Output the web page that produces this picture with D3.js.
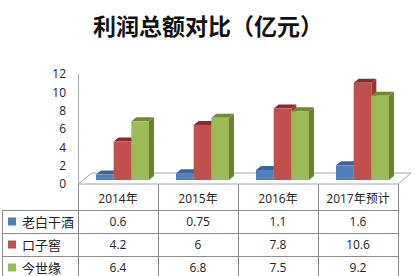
<!DOCTYPE html>
<html><head><meta charset="utf-8">
<script src="https://cdn.jsdelivr.net/npm/d3@7/dist/d3.min.js"></script>
<style>html,body{margin:0;padding:0;background:#fff;}svg{display:block;}</style>
</head><body><svg id="c" width="418" height="276"></svg>
<script>
const title = "利润总额对比（亿元）";
const categories = ["2014年", "2015年", "2016年", "2017年预计"];
const seriesNames = ["老白干酒", "口子窖", "今世缘"];
const laobaigan = [0.6, 0.75, 1.1, 1.6];
const kouzijiao = [4.2, 6, 7.8, 10.6];
const jinshiyuan = [6.4, 6.8, 7.5, 9.2];
const yTicks = [0, 2, 4, 6, 8, 10, 12];

const seriesValues = [laobaigan, kouzijiao, jinshiyuan];
const colors = [
  {front:"#4F81BD", top:"#3A64A0", side:"#2E5287"},
  {front:"#C0504D", top:"#8E2B29", side:"#9A3532"},
  {front:"#9BBB59", top:"#6E8B33", side:"#6A842F"}
];

const svg = d3.select("#c");
const plotL = 78, plotR = 398, axisBottom = 184, axisTop = 74;
const floorDx = 14, floorDy = -11;
const frontDx = 4.5, frontDy = -4;
const depthDx = 5, depthDy = -4;

const x = d3.scaleBand().domain(categories).range([plotL, plotR]);
const xs = d3.scaleBand().domain(seriesNames).range([0, 53]);
const y = d3.scaleLinear().domain([0, 12]).range([axisBottom, axisTop]);

// title
svg.append("text").attr("x", 208).attr("y", 35).attr("text-anchor", "middle")
  .attr("font-family", "'Noto Sans CJK SC', sans-serif").attr("font-weight", 700)
  .attr("font-size", 23).attr("fill", "#111").text(title);

// floor
const floor = [[plotL, axisBottom],[plotL+floorDx, axisBottom+floorDy],[plotR+floorDx-1, axisBottom+floorDy],[plotR, axisBottom]];
svg.append("path").attr("d", d3.line()(floor)+"Z").attr("fill", "none").attr("stroke", "#a6a6a6").attr("stroke-width", 1);

// y axis
const yAxis = d3.axisLeft(y).tickValues(yTicks).tickSize(0).tickPadding(12);
const ga = svg.append("g").attr("transform", `translate(${plotL},0)`).call(yAxis);
ga.select(".domain").attr("stroke", "#a6a6a6");
ga.selectAll("text").attr("font-family", "'Open Sans', 'DejaVu Sans', sans-serif").attr("font-size", 12).attr("fill", "#222");

// bars
const bw = xs.bandwidth();
categories.forEach((cat, ci) => {
  seriesNames.forEach((s, si) => {
    const v = seriesValues[si][ci];
    const x0 = x(cat) + (x.bandwidth() - 53) / 2 + frontDx + xs(s);
    const x1 = x0 + bw;
    const yb = y(0) + frontDy, yt = y(v) + frontDy;
    const g = svg.append("g");
    const c = colors[si];
    g.append("path").attr("d", d3.line()([[x1, yb],[x1+depthDx, yb+depthDy],[x1+depthDx, yt+depthDy],[x1, yt]])+"Z").attr("fill", c.side);
    g.append("path").attr("d", d3.line()([[x0, yt],[x0+depthDx, yt+depthDy],[x1+depthDx, yt+depthDy],[x1, yt]])+"Z").attr("fill", c.top);
    g.append("rect").attr("x", x0).attr("y", yt).attr("width", bw).attr("height", yb - yt).attr("fill", c.front);
  });
});

// data table
const rowTops = [184, 210, 233, 256, 279];
const colEdges = [plotL].concat(categories.map(c => x(c) + x.bandwidth()));
const tableLeft = 2;
const lineColor = "#8c8c8c";
const tg = svg.append("g").attr("stroke", lineColor).attr("stroke-width", 1).attr("shape-rendering", "crispEdges");
colEdges.forEach(xe => tg.append("line").attr("x1", xe).attr("x2", xe).attr("y1", rowTops[0]).attr("y2", 276));
tg.append("line").attr("x1", tableLeft).attr("x2", tableLeft).attr("y1", rowTops[1]).attr("y2", 276);
rowTops.slice(1, 4).forEach(yy => tg.append("line").attr("x1", tableLeft).attr("x2", plotR).attr("y1", yy).attr("y2", yy));

categories.forEach(cat => {
  svg.append("text").attr("x", x(cat) + x.bandwidth()/2).attr("y", 203).attr("text-anchor", "middle")
    .attr("font-family", "'Open Sans', 'Noto Sans CJK SC', sans-serif").attr("font-size", 12).attr("fill", "#222").text(cat);
});
seriesNames.forEach((s, si) => {
  const cy = (rowTops[si+1] + rowTops[si+2]) / 2;
  svg.append("rect").attr("x", 8).attr("y", cy - 4).attr("width", 8).attr("height", 8).attr("fill", colors[si].front);
  svg.append("text").attr("x", 22).attr("y", cy + 5).attr("font-family", "'Noto Sans CJK SC', sans-serif")
    .attr("font-size", 13).attr("fill", "#222").text(s);
  categories.forEach((cat, ci) => {
    svg.append("text").attr("x", x(cat) + x.bandwidth()/2).attr("y", cy + 4.5).attr("text-anchor", "middle")
      .attr("font-family", "'Open Sans', sans-serif").attr("font-size", 12).attr("fill", "#222").text(seriesValues[si][ci]);
  });
});
</script></body></html>
